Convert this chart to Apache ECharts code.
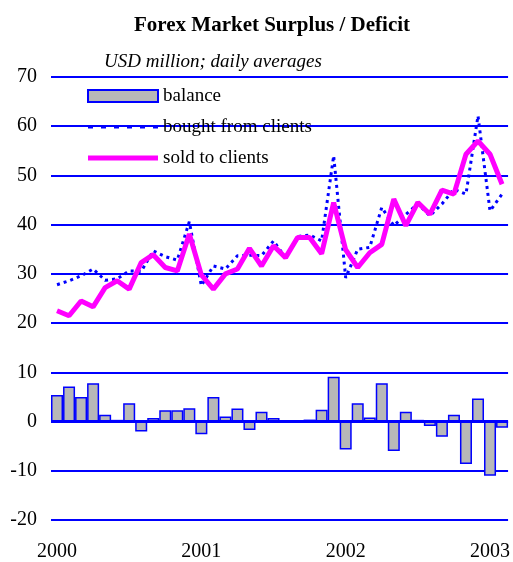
<!DOCTYPE html>
<html>
<head>
<meta charset="utf-8">
<title>Forex Market Surplus / Deficit</title>
<script src="https://cdn.jsdelivr.net/npm/echarts@6.0.0/dist/echarts.min.js"></script>
<style>
  html, body { margin: 0; padding: 0; background: #fff; }
  #main { width: 513px; height: 562px; }
</style>
</head>
<body>
<div id="main"></div>
<script>
// monthly, Jan 2000 .. Feb 2003
var months = [
  '2000-01', '2000-02', '2000-03', '2000-04', '2000-05', '2000-06', '2000-07', '2000-08', '2000-09', '2000-10', '2000-11', '2000-12',
  '2001-01', '2001-02', '2001-03', '2001-04', '2001-05', '2001-06', '2001-07', '2001-08', '2001-09', '2001-10', '2001-11', '2001-12',
  '2002-01', '2002-02', '2002-03', '2002-04', '2002-05', '2002-06', '2002-07', '2002-08', '2002-09', '2002-10', '2002-11', '2002-12',
  '2003-01', '2003-02'
]
var balance = [5.4, 7.1, 5.0, 7.8, 1.4, 0.35, 3.7, -2.0, 0.7, 2.3, 2.3, 2.7,
  -2.6, 5.0, 1.05, 2.65, -1.7, 2.0, 0.7, 0.1, -0.3, 0.4, 2.4, 9.1,
  -5.7, 3.7, 0.8, 7.8, -6.0, 2.0, 0.35, -0.9, -3.1, 1.4, -8.6, 4.7,
  -11.0, -1.25]
var bought = [27.8, 28.6, 29.6, 31.0, 28.7, 29.0, 30.6, 30.5, 34.7, 33.5, 32.8, 40.6,
  27.6, 31.6, 31.0, 33.7, 33.8, 33.7, 36.7, 33.3, 37.6, 37.9, 36.7, 54.0,
  29.2, 35.0, 35.4, 43.5, 39.8, 42.1, 44.2, 41.8, 44.2, 47.2, 46.2, 62.1,
  42.8, 46.2]
var sold = [22.5, 21.5, 24.5, 23.3, 27.2, 28.6, 26.9, 32.3, 33.9, 31.3, 30.6, 38.1,
  29.8, 26.9, 30.0, 31.0, 35.2, 31.6, 35.7, 33.3, 37.4, 37.4, 34.1, 44.5,
  34.9, 31.3, 34.3, 36.0, 45.2, 39.8, 44.5, 42.1, 47.0, 46.2, 54.3, 57.0,
  54.3, 48.2]

var serif = '"Liberation Serif", "Times New Roman", serif'
var myChart = echarts.init(document.getElementById('main'))

// legend icons drawn as paths (keep aspect -> thin strokes inside the 70x12 box)
var dashIcon = 'path://M0 0h5v3h-5z M13 0h5v3h-5z M26 0h5v3h-5z M39 0h5v3h-5z M52 0h5v3h-5z M65 0h5v3h-5z'
var thickIcon = 'path://M0 0h70v5h-70z'

var option = {
  animation: false,
  title: [
    {
      text: 'Forex Market Surplus / Deficit',
      left: 267,
      textAlign: 'center',
      top: 10,
      textStyle: { fontFamily: serif, fontSize: 21, fontWeight: 'bold', color: '#000' }
    },
    {
      text: 'USD million; daily averages',
      left: 99,
      top: 47,
      textStyle: { fontFamily: serif, fontSize: 19, fontStyle: 'italic', fontWeight: 'normal', color: '#000' }
    }
  ],
  legend: {
    orient: 'vertical',
    left: 87,
    top: 86,
    padding: 0,
    itemWidth: 70,
    itemHeight: 12,
    itemGap: 11,
    symbolKeepAspect: true,
    textStyle: { fontFamily: serif, fontSize: 19, color: '#000', lineHeight: 20 },
    data: [
      { name: 'balance', icon: 'rect' },
      { name: 'bought from clients', icon: dashIcon },
      { name: 'sold to clients', icon: thickIcon }
    ]
  },
  grid: {
    left: 51,
    right: 3,
    top: 77,
    bottom: 42
  },
  xAxis: {
    type: 'category',
    data: months,
    boundaryGap: true,
    axisLine: { show: false },
    axisTick: { show: false },
    axisLabel: {
      interval: 11,
      margin: 22,
      fontFamily: serif,
      fontSize: 20,
      color: '#000',
      formatter: function (v) { return v.slice(0, 4) }
    }
  },
  yAxis: {
    type: 'value',
    min: -20,
    max: 70,
    interval: 10,
    axisLine: { show: false },
    axisTick: { show: false },
    axisLabel: { margin: 14, fontFamily: serif, fontSize: 20, color: '#000' },
    splitLine: { lineStyle: { color: '#0000ff', width: 2 } }
  },
  series: [
    {
      name: 'balance',
      type: 'bar',
      data: balance,
      barWidth: '100%',
      itemStyle: { color: '#b8b8b8', borderColor: '#0000ff', borderWidth: 1.5 },
      markLine: {
        silent: true,
        symbol: ['none', 'none'],
        label: { show: false },
        lineStyle: { color: '#0000ff', width: 3, type: 'solid' },
        data: [{ yAxis: 0 }]
      }
    },
    {
      name: 'bought from clients',
      type: 'line',
      data: bought,
      symbol: 'none',
      itemStyle: { color: '#0000ff' },
      lineStyle: { color: '#0000ff', width: 3, type: [3, 4] }
    },
    {
      name: 'sold to clients',
      type: 'line',
      data: sold,
      symbol: 'none',
      itemStyle: { color: '#ff00ff' },
      lineStyle: { color: '#ff00ff', width: 5 }
    }
  ]
}
myChart.setOption(option)
</script>
</body>
</html>
